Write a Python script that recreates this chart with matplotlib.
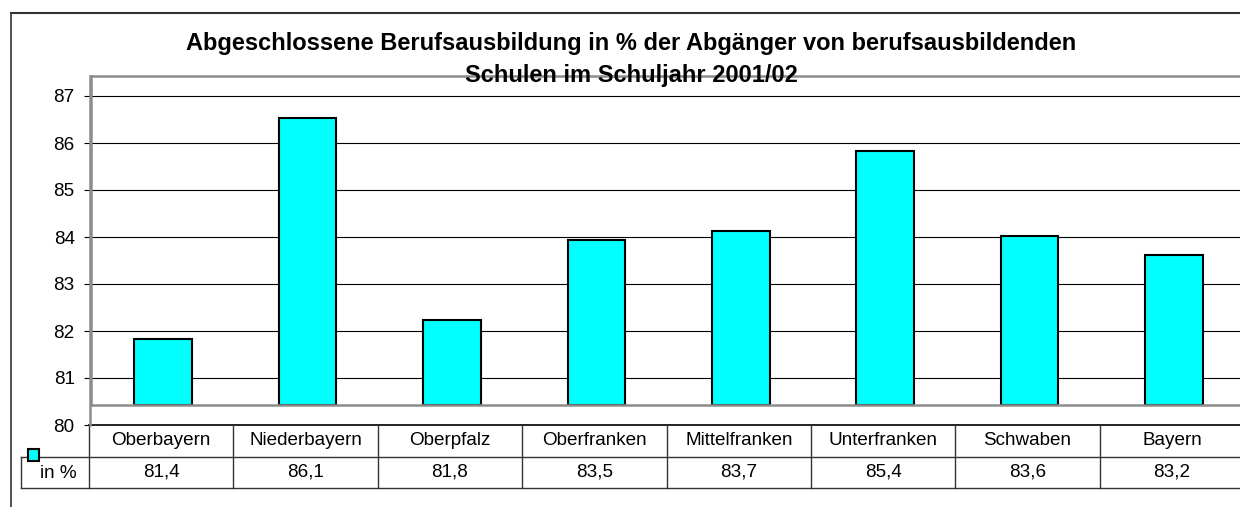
import numpy as np
import matplotlib
matplotlib.use("Agg")
import matplotlib.pyplot as plt
from matplotlib.patches import Rectangle
from matplotlib.lines import Line2D

plt.rcParams['font.family'] = ['Liberation Sans', 'DejaVu Sans']

# data
regions = ["Oberbayern", "Niederbayern", "Oberpfalz", "Oberfranken",
           "Mittelfranken", "Unterfranken", "Schwaben", "Bayern"]
values = [81.4, 86.1, 81.8, 83.5, 83.7, 85.4, 83.6, 83.2]
series_name = "in %"
yticks = [80, 81, 82, 83, 84, 85, 86, 87]
title1 = "Abgeschlossene Berufsausbildung in % der Abgänger von berufsausbildenden"
title2 = "Schulen im Schuljahr 2001/02"

W, H = 1240, 507
fig = plt.figure(figsize=(W / 100, H / 100), dpi=100)


def fx(px):
    return px / W


def fy(py):
    return 1 - py / H


px_unit = 47.0      # pixels per percent point
left = 89
slot_w = 144.4
n = len(regions)
right = left + n * slot_w
fs = 13.6

# value axis + gridlines (sits slightly lower than the bars, like the original)
vax = fig.add_axes([fx(left + 1), fy(425), (right - left) / W, (425 - 76) / H])
vax.set_zorder(1)
vax.set_ylim(80, 80 + (425 - 76) / px_unit)
vax.set_xlim(0, 1)
vax.set_yticks(yticks)
vax.set_xticks([])
vax.grid(axis='y', color='black', lw=0.8)
for s in ['top', 'right', 'bottom']:
    vax.spines[s].set_visible(False)
vax.spines['left'].set_color('#8c8c8c')
vax.spines['left'].set_linewidth(1.8)
vax.tick_params(axis='y', length=4.5, width=0.8, color='black', pad=6.5, labelsize=fs)
vax.set_facecolor('none')

# bars
ax = fig.add_axes([fx(left + 2), fy(405), (right - left) / W, (405 - 76) / H])
ax.set_zorder(2)
ax.set_facecolor('none')
x = np.arange(n)
ax.bar(x, np.array(values) - 80, bottom=80, width=0.40, color='#00FFFF',
       edgecolor='black', linewidth=1.5)
ax.set_xlim(-0.5, n - 0.5)
ax.set_ylim(80, 80 + (405 - 76) / px_unit)
ax.set_xticks([])
ax.set_yticks([])
for s in ax.spines.values():
    s.set_color('#8c8c8c')
    s.set_linewidth(1.8)

# data table below the chart
tax = fig.add_axes([fx(left), fy(488), (right - left) / W, (488 - 425) / H])
tax.set_xlim(-0.5, n - 0.5)
tax.set_ylim(0, 2)
tax.axis('off')
head_x = -0.5 - (left - 21) / slot_w
lc = '#333333'
tax.add_line(Line2D([-0.5, n - 0.5], [2, 2], color='black', lw=1.2, clip_on=False))
tax.add_line(Line2D([head_x, n - 0.5], [1, 1], color=lc, lw=1, clip_on=False))
tax.add_line(Line2D([head_x, n - 0.5], [0, 0], color=lc, lw=1, clip_on=False))
for k in range(n + 1):
    tax.add_line(Line2D([k - 0.5, k - 0.5], [0, 2], color=lc, lw=1, clip_on=False))
tax.add_line(Line2D([head_x, head_x], [0, 1], color=lc, lw=1, clip_on=False))
for i, (r, v) in enumerate(zip(regions, values)):
    tax.text(i, 1.5, r, ha='center', va='center', fontsize=fs)
    tax.text(i, 0.5, f"{v:.1f}".replace('.', ','), ha='center', va='center', fontsize=fs)
fig.text(fx(77), fy(473), series_name, ha='right', va='center', fontsize=fs)

# legend key
fig.patches.append(Rectangle((fx(28), fy(461)), 11 / W, 12 / H, transform=fig.transFigure,
                             facecolor='#00FFFF', edgecolor='black', lw=1.5))

# title
fig.text(fx(631), fy(50), title1, ha='center', va='baseline', fontsize=17, weight='bold')
fig.text(fx(631), fy(82), title2, ha='center', va='baseline', fontsize=17, weight='bold')

# chart border
fig.add_artist(Line2D([fx(11), fx(11)], [fy(13), 0], color='#333333', lw=1.2))
fig.add_artist(Line2D([fx(11), 1], [fy(13), fy(13)], color='#333333', lw=1.5))

fig.savefig("out.png", dpi=100)
